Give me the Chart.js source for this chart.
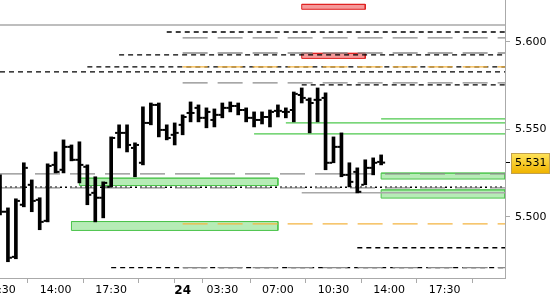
<!DOCTYPE html>
<html>
<head>
<meta charset="utf-8">
<script src="https://cdn.jsdelivr.net/npm/chart.js@4.4.1/dist/chart.umd.min.js"></script>
<style>
  html, body { margin: 0; padding: 0; background: #fff; }
  #wrap { width: 550px; height: 300px; }
</style>
</head>
<body>
<div id="wrap"><canvas id="priceChart" width="550" height="300"></canvas></div>
<script>
// 30 minute OHLC bars, bar i sits in slot i of the session axis
const opens  = [5.5200, 5.5029, 5.4771, 5.5069, 5.5183, 5.5097, 5.4977, 5.5297, 5.5269, 5.5400,
                5.5326, 5.5286, 5.5137, 5.5109, 5.5171, 5.5480, 5.5480, 5.5394, 5.5309, 5.5537,
                5.5640, 5.5497, 5.5469, 5.5526, 5.5594, 5.5623, 5.5566, 5.5554, 5.5583, 5.5623,
                5.5634, 5.5611, 5.5566, 5.5554, 5.5571, 5.5606, 5.5600, 5.5611, 5.5697, 5.5669,
                5.5669, 5.5680, 5.5309, 5.5400, 5.5240, 5.5257, 5.5183, 5.5280, 5.5314];
const highs  = [5.5240, 5.5051, 5.5103, 5.5309, 5.5211, 5.5109, 5.5303, 5.5371, 5.5440, 5.5411,
                5.5429, 5.5297, 5.5229, 5.5200, 5.5457, 5.5526, 5.5526, 5.5423, 5.5629, 5.5651,
                5.5651, 5.5526, 5.5537, 5.5583, 5.5657, 5.5640, 5.5623, 5.5617, 5.5651, 5.5657,
                5.5651, 5.5623, 5.5600, 5.5600, 5.5611, 5.5640, 5.5623, 5.5714, 5.5737, 5.5680,
                5.5737, 5.5709, 5.5457, 5.5480, 5.5309, 5.5280, 5.5326, 5.5337, 5.5354];
const lows   = [5.5011, 5.4743, 5.4760, 5.5057, 5.5029, 5.4926, 5.4971, 5.5251, 5.5251, 5.5320,
                5.5194, 5.5069, 5.4971, 5.4994, 5.5171, 5.5394, 5.5371, 5.5229, 5.5297, 5.5526,
                5.5457, 5.5440, 5.5411, 5.5469, 5.5543, 5.5543, 5.5509, 5.5514, 5.5566, 5.5600,
                5.5583, 5.5543, 5.5514, 5.5531, 5.5514, 5.5571, 5.5566, 5.5543, 5.5651, 5.5480,
                5.5543, 5.5269, 5.5309, 5.5229, 5.5171, 5.5137, 5.5183, 5.5240, 5.5297];
const closes = [5.5029, 5.4766, 5.5091, 5.5280, 5.5091, 5.4971, 5.5291, 5.5257, 5.5400, 5.5326,
                5.5297, 5.5126, 5.5109, 5.5194, 5.5451, 5.5480, 5.5411, 5.5411, 5.5537, 5.5640,
                5.5497, 5.5451, 5.5480, 5.5571, 5.5594, 5.5566, 5.5600, 5.5583, 5.5623, 5.5634,
                5.5611, 5.5566, 5.5554, 5.5571, 5.5600, 5.5606, 5.5600, 5.5703, 5.5680, 5.5651,
                5.5669, 5.5309, 5.5400, 5.5240, 5.5200, 5.5143, 5.5280, 5.5309, 5.5310];

const xTickSlots  = [0, 7, 14, 21, 23, 28, 35, 42, 49, 56, 63];
const xTickLabels = ['10:30', '14:00', '17:30', '', '24', '03:30', '07:00', '10:30', '14:00', '17:30', ''];
const yTickValues = [5.500, 5.550, 5.600];

// horizontal levels: price and the slot where each one starts
const blackDashLevels  = [5.6057, 5.5926, 5.5857, 5.5829, 5.5754, 5.4823, 5.4709];
const blackDashStarts  = [21, 15, 11, 0, 38, 45, 14];
const grayDashLevels   = [5.6023, 5.5937, 5.5766, 5.5246, 5.5166, 5.4709];
const grayDashStarts   = [23, 23, 23, 0, 0, 23];
const orangeDashLevels = [5.5857, 5.4960];
const orangeDashStarts = [23, 23];
const graySolidLevels  = [5.6097, 5.5137];
const graySolidStarts  = [0, 38];
const dotLevels        = [5.5169];
const dotStarts        = [0];
const greenLevels      = [5.5560, 5.5537, 5.5474];
const greenStarts      = [48, 36, 32];

// zones
const greenZoneStarts = [10, 9, 48, 48];
const greenZoneEnds   = [35, 35, 63.6, 63.6];
const greenZoneLows   = [5.5179, 5.4922, 5.5216, 5.5107];
const greenZoneHighs  = [5.5221, 5.4973, 5.5250, 5.5154];
const redZoneStarts = [38, 38];
const redZoneEnds   = [46, 46];
const redZoneLows   = [5.6187, 5.5906];
const redZoneHighs  = [5.6215, 5.5935];

const X_MAX = 63.6;

Chart.defaults.font.family = "'DejaVu Sans', sans-serif";
Chart.defaults.font.size = 11;
Chart.defaults.color = '#000';

function levelSets(values, starts, style) {
    return values.map((v, i) => ({
        type: 'line',
        data: [{ x: starts[i], y: v }, { x: X_MAX, y: v }],
        borderColor: style.color,
        borderWidth: style.width,
        borderDash: style.dash || [],
        pointRadius: 0,
        fill: false,
        order: 2
    }));
}

function zoneSets(starts, ends, lows, highs, fillColor, lineColor) {
    return starts.map((s, i) => ({
        type: 'line',
        data: [
            { x: s, y: highs[i] }, { x: ends[i], y: highs[i] },
            { x: ends[i], y: lows[i] }, { x: s, y: lows[i] },
            { x: s, y: highs[i] }, { x: ends[i], y: highs[i] }
        ],
        backgroundColor: fillColor,
        borderColor: lineColor,
        borderWidth: 1,
        pointRadius: 0,
        fill: 'shape',
        order: 3
    }));
}

const priceTag = {
    id: 'priceTag',
    afterDraw(chart) {
        const ys = chart.scales.y;
        const last = closes[closes.length - 1];
        const y = Math.round(ys.getPixelForValue(last));
        const ctx = chart.ctx;
        const left = ys.left + 6.5;
        const grad = ctx.createLinearGradient(0, y - 10, 0, y + 10);
        grad.addColorStop(0, '#ffe45c');
        grad.addColorStop(1, '#f0b400');
        ctx.save();
        ctx.fillStyle = grad;
        ctx.fillRect(left, y - 9.5, 38, 20);
        ctx.strokeStyle = '#c0a050';
        ctx.lineWidth = 1;
        ctx.strokeRect(left, y - 9.5, 38, 20);
        ctx.fillStyle = '#000';
        ctx.font = "11px 'DejaVu Sans'";
        ctx.textBaseline = 'middle';
        ctx.fillText(last.toFixed(3), ys.left + 10, y + 0.5);
        ctx.restore();
    }
};

const datasets = [
    {
        type: 'bar',
        data: highs.map((h, i) => ({ x: i, y: [lows[i], h] })),
        backgroundColor: '#000',
        barThickness: 3,
        order: 0
    },
    {
        type: 'scatter',
        data: opens.map((o, i) => ({ x: i - 0.34, y: o })),
        pointStyle: 'line',
        pointRadius: 1.3,
        pointBorderWidth: 2,
        pointBorderColor: '#000',
        order: 0
    },
    {
        type: 'scatter',
        data: closes.map((c, i) => ({ x: i + 0.34, y: c })),
        pointStyle: 'line',
        pointRadius: 1.3,
        pointBorderWidth: 2,
        pointBorderColor: '#000',
        order: 0
    },
    ...levelSets(graySolidLevels, graySolidStarts, { color: '#a8a8a8', width: 1.5 }),
    ...levelSets(grayDashLevels, grayDashStarts, { color: '#8a8a8a', width: 1.3, dash: [25, 10] }),
    ...levelSets(orangeDashLevels, orangeDashStarts, { color: '#f4b440', width: 1.3, dash: [25, 10] }),
    ...levelSets(blackDashLevels, blackDashStarts, { color: '#000', width: 1.3, dash: [5, 4] }),
    ...levelSets(dotLevels, dotStarts, { color: '#000', width: 1.5, dash: [2, 3] }),
    ...levelSets(greenLevels, greenStarts, { color: '#4cc84c', width: 1.2 }),
    ...zoneSets(greenZoneStarts, greenZoneEnds, greenZoneLows, greenZoneHighs, '#b6ecb6', '#4cc44c'),
    ...zoneSets(redZoneStarts, redZoneEnds, redZoneLows, redZoneHighs, '#f59a9a', '#e02020')
];

new Chart(document.getElementById('priceChart'), {
    type: 'bar',
    data: { datasets: datasets },
    plugins: [priceTag],
    options: {
        responsive: false,
        animation: false,
        events: [],
        layout: { padding: 0, autoPadding: false },
        plugins: { legend: { display: false }, tooltip: { enabled: false } },
        scales: {
            x: {
                type: 'linear',
                min: 0,
                max: X_MAX,
                offset: false,
                afterBuildTicks: (scale) => { scale.ticks = xTickSlots.map(v => ({ value: v })); },
                afterFit: (scale) => { scale.height = 22; scale.paddingLeft = 0; scale.paddingRight = 0; },
                grid: { drawOnChartArea: false, tickLength: 5, color: '#aaa' },
                border: { color: '#aaa' },
                ticks: {
                    autoSkip: false,
                    maxRotation: 0,
                    padding: 1,
                    callback: (v) => xTickLabels[xTickSlots.indexOf(v)],
                    font: (c) => (c.tick && c.tick.value === 23) ? { size: 12, weight: 'bold' } : { size: 11 }
                }
            },
            y: {
                type: 'linear',
                position: 'right',
                min: 5.465,
                max: 5.624,
                afterBuildTicks: (scale) => {
                    scale.ticks = yTickValues.concat([closes[closes.length - 1]]).map(v => ({ value: v }));
                },
                afterFit: (scale) => { scale.width = 45; scale.paddingTop = 0; scale.paddingBottom = 0; },
                grid: {
                    drawOnChartArea: false,
                    tickLength: 5,
                    color: (c) => (c.tick && yTickValues.indexOf(c.tick.value) < 0) ? '#000' : '#aaa'
                },
                border: { color: '#aaa' },
                ticks: {
                    padding: 5,
                    callback: (v) => yTickValues.indexOf(v) < 0 ? '' : v.toFixed(3)
                }
            }
        }
    }
});
</script>
</body>
</html>
